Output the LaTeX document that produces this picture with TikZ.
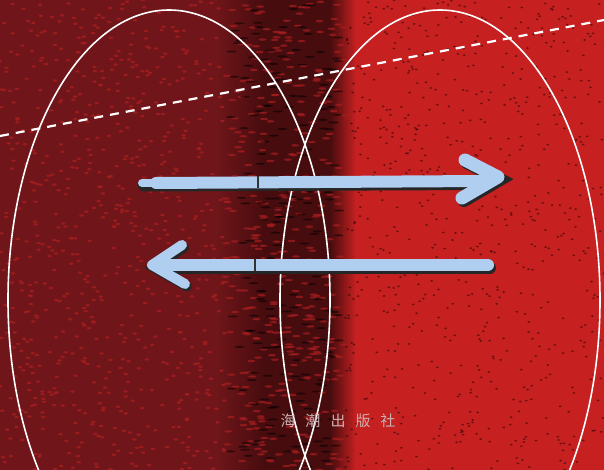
\documentclass[tikz,border=0pt]{standalone}
\usepackage{fontspec}
\newfontfamily\cjk{Noto Sans CJK SC}
\usepackage{tikz}
\usetikzlibrary{calc}
\definecolor{bgdark}{RGB}{112,22,26}
\definecolor{bgblack}{RGB}{70,12,14}
\definecolor{bgred}{RGB}{198,32,32}
\definecolor{speckred}{RGB}{168,30,32}
\definecolor{arrowblue}{RGB}{176,206,240}
\definecolor{inkgray}{RGB}{205,178,178}
\tikzset{
  orbit/.style={draw=white,line width=1.6pt},
  axisline/.style={white,line width=2.2pt,dash pattern=on 9pt off 7pt},
  beam/.style={line width=12pt,line cap=round,color=arrowblue},
  beamshade/.style={line width=12pt,line cap=round,color=black!85},
  notch/.style={line width=1.4pt,color=black!80}
}

\begin{document}
\begin{tikzpicture}[x=1pt,y=-1pt]
  \useasboundingbox (0,0) rectangle (604,470);
  \clip (0,0) rectangle (604,470);
  % background bands
  \fill[bgdark] (0,0) rectangle (220,470);
  \shade[left color=bgdark,right color=bgblack] (215,0) rectangle (265,470);
  \fill[bgblack] (264,0) rectangle (332,470);
  \shade[left color=bgblack,right color=bgred] (330,0) rectangle (356,470);
  \fill[bgred] (355,0) rectangle (604,470);
  % texture
  \pgfmathsetseed{7}
  \foreach \i in {1,...,700} {
    \pgfmathsetmacro\sx{rnd*225}
    \pgfmathsetmacro\sy{rnd*470}
    \fill[speckred,opacity=0.8] (\sx,\sy) ellipse (2.2 and 1.2);
  }
  \foreach \i in {1,...,400} {
    \pgfmathsetmacro\sx{225+rnd*120}
    \pgfmathsetmacro\sy{rnd*470}
    \fill[speckred,opacity=0.7] (\sx,\sy) ellipse (4 and 1.2);
  }
  \foreach \i in {1,...,200} {
    \pgfmathsetmacro\sx{230+rnd*110}
    \pgfmathsetmacro\sy{rnd*470}
    \fill[black,opacity=0.5] (\sx,\sy) ellipse (5 and 1);
  }
  \foreach \i in {1,...,700} {
    \pgfmathsetmacro\sx{345+rnd*259}
    \pgfmathsetmacro\sy{rnd*470}
    \fill[black,opacity=0.45] (\sx,\sy) ellipse (1.5 and 1);
  }

  % two loops
  \coordinate (cl) at (169,300);
  \coordinate (cr) at (440,300);
  \draw[orbit] (cl) ellipse (161 and 290);
  \draw[orbit] (cr) ellipse (160 and 290);

  % dashed axis
  \coordinate (ax1) at (0,136);
  \coordinate (ax2) at (604,20);
  \draw[axisline] (ax1) -- (ax2);

  % upper arrow, pointing right
  \coordinate (ut) at (142,183);
  \coordinate (uh) at (498,177);
  \coordinate (ua) at (465,160);
  \coordinate (ub) at (462,198);
  \coordinate (un) at (258,182);
  \draw[beamshade] ($(ut)+(2,2.5)$) -- ($(uh)+(-14,7)$);
  \draw[beamshade,line width=13pt] ($(ua)+(2,2.5)$) -- ($(uh)+(2,2.5)$) -- ($(ub)+(2,2.5)$);
  \draw[beam,line width=8pt] (ut) -- ($(ut)+(30,0)$);
  \draw[beam] ($(ut)+(14,0)$) -- ($(uh)+(-14,4)$);
  \draw[beam,line width=13pt,line join=round] (ua) -- (uh) -- (ub);
  \draw[notch] ($(un)+(0,-6)$) -- ($(un)+(0,6)$);

  % lower arrow, pointing left
  \coordinate (lt) at (488,265);
  \coordinate (lh) at (152,265);
  \coordinate (la) at (182,245);
  \coordinate (lb) at (185,284);
  \coordinate (ln) at (255,265);
  \draw[beamshade] ($(lt)+(2,2.5)$) -- ($(lh)+(14,2.5)$);
  \draw[beamshade,line width=10pt] ($(la)+(2,2.5)$) -- ($(lh)+(2,2.5)$) -- ($(lb)+(2,2.5)$);
  \draw[beam] (lt) -- ($(lh)+(12,0)$);
  \draw[beam,line width=10pt,line join=round] (la) -- (lh) -- (lb);
  \draw[notch] ($(ln)+(0,-6)$) -- ($(ln)+(0,6)$);

  % imprint
  \node[text=inkgray,font=\cjk\fontsize{15}{15}\selectfont,inner sep=0pt]
    (press) at (338,421) {海\hspace{10pt}潮\hspace{10pt}出\hspace{10pt}版\hspace{10pt}社};
\end{tikzpicture}
\end{document}
